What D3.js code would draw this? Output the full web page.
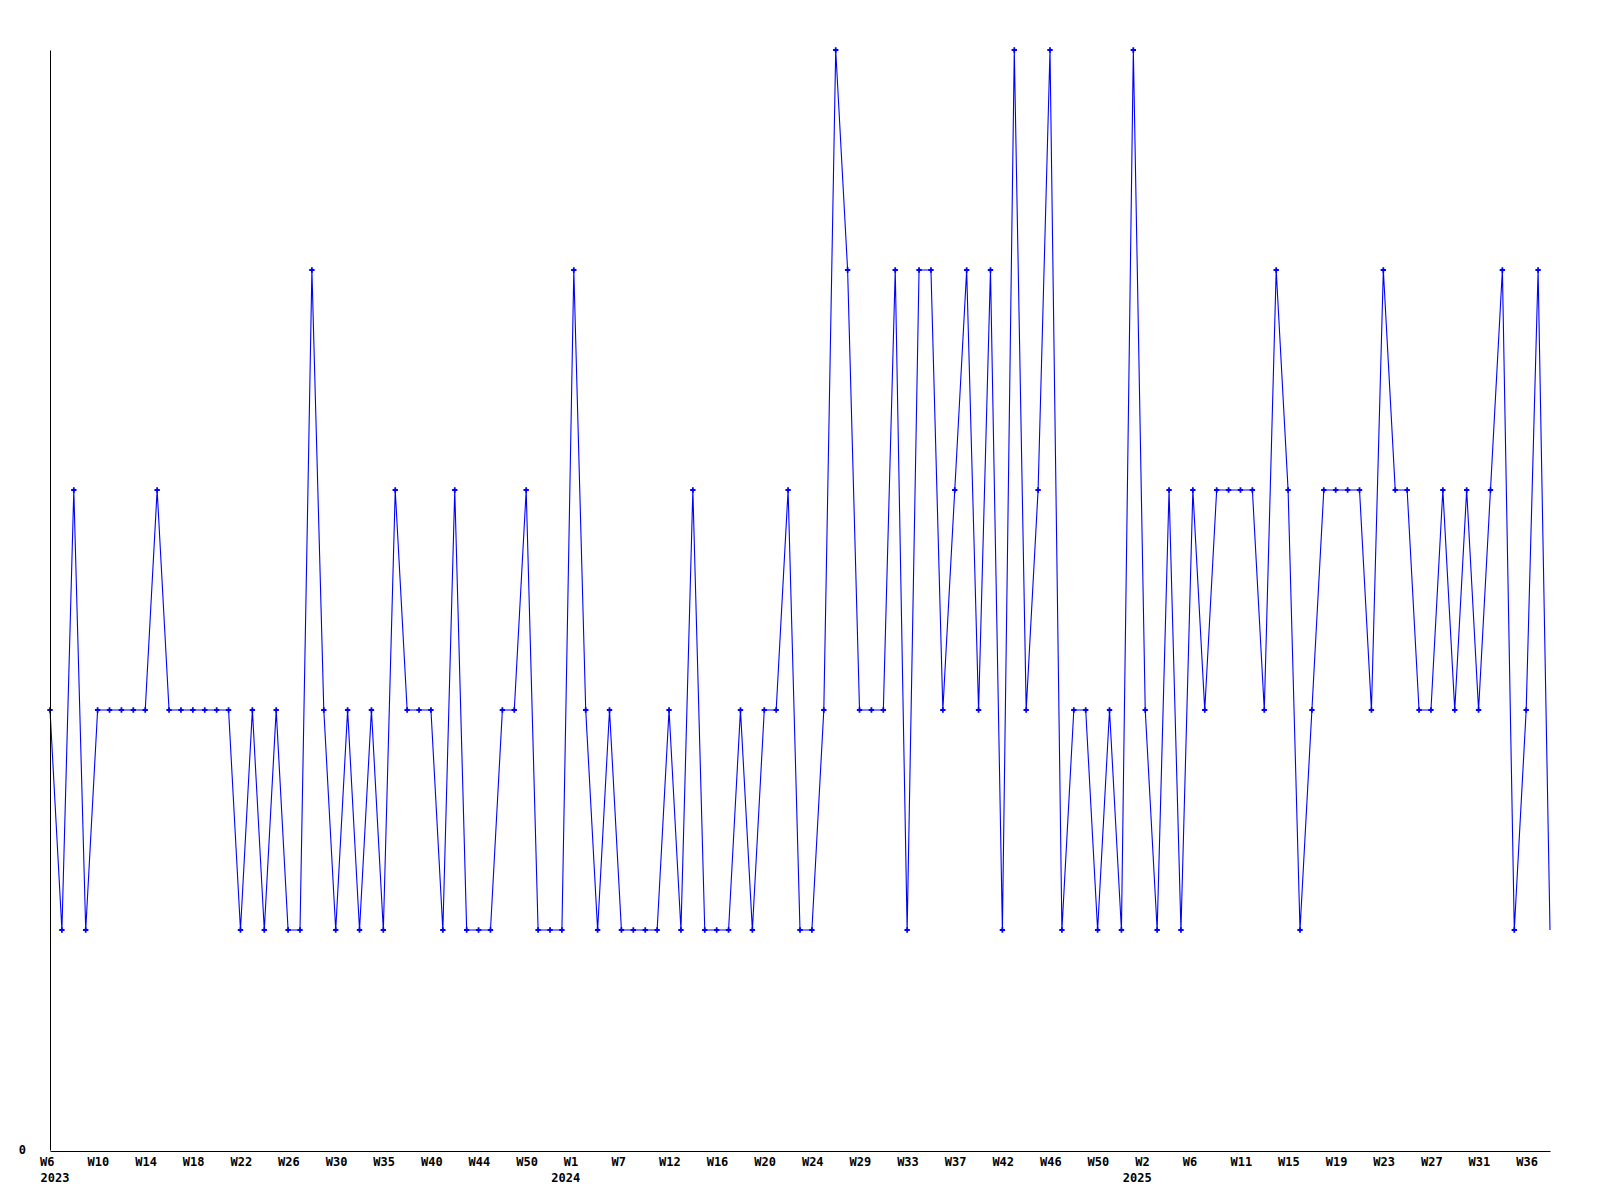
<!DOCTYPE html>
<html>
<head>
<meta charset="utf-8">
<script src="https://cdn.jsdelivr.net/npm/d3@7"></script>
<style>
  body { margin: 0; background: #fff; }
  text { font-family: "DejaVu Sans Mono", monospace; font-weight: bold; font-size: 12px; }
</style>
</head>
<body>
<div id="chart"></div>
<script>
// one value per week, oldest first
const values = [
  2,1,3,1,2,2,2,2,2,3,2,2,2,2,2,2,1,2,1,2,1,1,
  4,2,1,2,1,2,1,3,2,2,2,1,3,1,1,1,2,2,3,1,1,
  1,4,2,1,2,1,1,1,1,2,1,3,1,1,1,2,1,2,2,3,1,
  1,2,5,4,2,2,2,4,1,4,4,2,3,4,2,4,1,5,2,3,5,
  1,2,2,1,2,1,5,2,1,3,1,3,2,3,3,3,3,2,4,3,1,
  2,3,3,3,3,2,4,3,3,2,2,3,2,3,2,3,4,1,2,4,1
];
// a label every 4th point
const weekLabels = ["W6","W10","W14","W18","W22","W26","W30","W35","W40","W44","W50",
  "W1","W7","W12","W16","W20","W24","W29","W33","W37","W42","W46","W50",
  "W2","W6","W11","W15","W19","W23","W27","W31","W36"];
const yearLabels = ["2023","","","","","","","","","","",
  "2024","","","","","","","","","","","",
  "2025","","","","","","","","",""];
const labelStep = 4;

const w = 1600;
const h = 1200;

const xScale = d3.scaleLinear()
  .domain([0, values.length - 1])
  .range([50, 1550]);
const yScale = d3.scaleLinear()
  .domain([0, 5])
  .range([1150, 50]);

const svg = d3.select("#chart")
  .append("svg")
  .attr("width", w)
  .attr("height", h);

const line = d3.line()
  .x((d, i) => xScale(i))
  .y(d => yScale(d));

svg.append("path")
  .datum(values)
  .attr("d", line)
  .attr("fill", "none")
  .attr("stroke", "#0000ff")
  .attr("stroke-width", 1.1);

// markers, the last point has none
svg.selectAll(".dot")
  .data(values.slice(0, -1))
  .enter()
  .append("path")
  .attr("class", "dot")
  .attr("d", d3.symbol().type(d3.symbolCross).size(16))
  .attr("transform", (d, i) => "translate(" + xScale(i) + "," + yScale(d) + ")")
  .attr("fill", "#0000ff");

const tickIdx = weekLabels.map((d, i) => i * labelStep);

const xAxis = d3.axisBottom(xScale)
  .tickValues(tickIdx)
  .tickSize(0)
  .tickSizeOuter(0)
  .tickFormat("");
const yAxis = d3.axisLeft(yScale)
  .tickValues([0])
  .tickSize(0)
  .tickSizeOuter(0)
  .tickPadding(24)
  .tickFormat(d3.format("d"));

const gx = svg.append("g")
  .attr("transform", "translate(0,1151)")
  .call(xAxis);
gx.select(".domain").attr("stroke", "#000");

gx.selectAll(".tick").each(function(d, i) {
  const t = d3.select(this);
  t.append("text")
    .attr("x", -10.5)
    .attr("y", 15)
    .attr("fill", "#000")
    .attr("text-anchor", "start")
    .text(weekLabels[i]);
  if (yearLabels[i]) {
    t.append("text")
      .attr("x", Math.max(-23, 40 - xScale(d)))
      .attr("y", 31)
      .attr("fill", "#000")
      .attr("text-anchor", "start")
      .text(yearLabels[i]);
  }
});

const gy = svg.append("g")
  .attr("transform", "translate(50,0)")
  .call(yAxis);
gy.select(".domain").attr("stroke", "#000");
gy.selectAll("text")
  .style("font-family", "'DejaVu Sans Mono', monospace")
  .style("font-weight", "bold")
  .style("font-size", "12px")
  .attr("fill", "#000");
</script>
</body>
</html>
